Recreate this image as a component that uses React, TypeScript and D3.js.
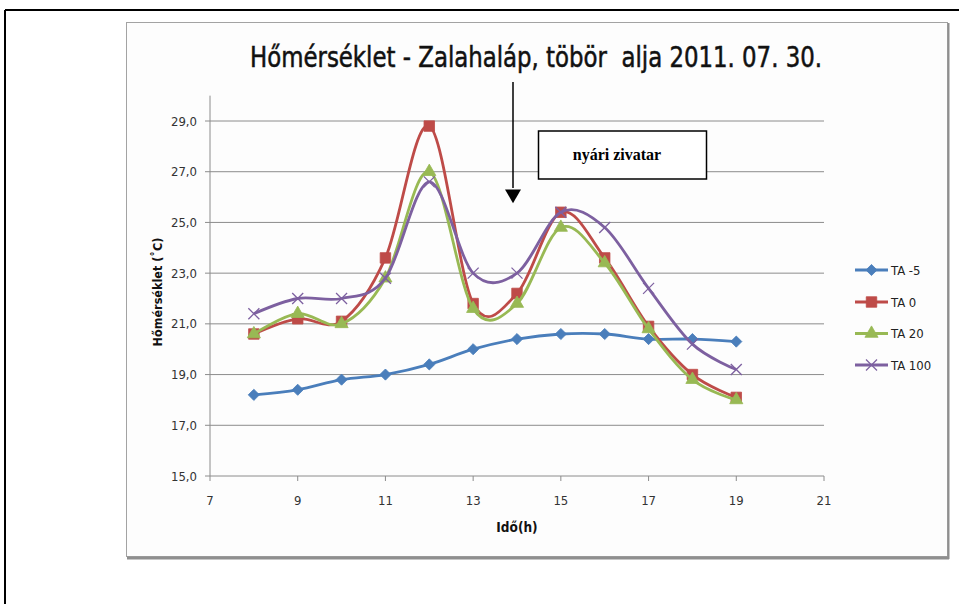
import React from 'react';
import * as d3 from 'd3';

// hours of the day
const hours = [8, 9, 10, 11, 12, 13, 14, 15, 16, 17, 18, 19];

// temperatures per sensor (°C)
const ta_m5 = [18.2, 18.4, 18.8, 19.0, 19.4, 20.0, 20.4, 20.6, 20.6, 20.4, 20.4, 20.3];
const ta_0 = [20.6, 21.2, 21.1, 23.6, 28.8, 21.8, 22.2, 25.4, 23.6, 20.9, 19.0, 18.1];
const ta_20 = [20.6, 21.4, 21.0, 22.8, 27.0, 21.6, 21.8, 24.8, 23.4, 20.8, 18.8, 18.0];
const ta_100 = [21.4, 22.0, 22.0, 22.8, 26.6, 23.0, 23.0, 25.4, 24.8, 22.4, 20.2, 19.2];

const seriesNames = ['TA -5', 'TA 0', 'TA 20', 'TA 100'];
const seriesValues = [ta_m5, ta_0, ta_20, ta_100];
const seriesColors = ['#4a7ebb', '#be4b48', '#98b954', '#7d60a0'];
const seriesMarkers = ['diamond', 'square', 'triangle', 'x'];

const xTicks = [7, 9, 11, 13, 15, 17, 19, 21];
const yTicks = [15, 17, 19, 21, 23, 25, 27, 29];

const title = 'Hőmérséklet - Zalahaláp, töbör  alja 2011. 07. 30.';
const note = 'nyári zivatar';

const W = 959;
const H = 604;

function Marker({ type, color }: { type: string; color: string }) {
  if (type === 'x') {
    return (
      <g stroke={color} strokeWidth={1.3}>
        <line x1={-5.5} y1={-5.5} x2={5.5} y2={5.5} />
        <line x1={-5.5} y1={5.5} x2={5.5} y2={-5.5} />
      </g>
    );
  }
  if (type === 'diamond') {
    // square turned by 45 degrees, as in Excel
    return (
      <path d={d3.symbol(d3.symbolSquare, 62)() || ''} transform="rotate(45)"
        fill={color} stroke={color} strokeWidth={0.8} />
    );
  }
  const sym = type === 'square' ? d3.symbol(d3.symbolSquare, 110) : d3.symbol(d3.symbolTriangle, 75);
  return <path d={sym() || ''} fill={color} stroke={color} strokeWidth={0.8} />;
}

export default function App() {
  const x = d3.scaleLinear().domain([7, 21]).range([210, 824]);
  const y = d3.scaleLinear().domain([15, 29]).range([476, 121]);

  const line = d3.line<number>()
    .x((_, i) => x(hours[i]))
    .y((d) => y(d))
    .curve(d3.curveCatmullRom.alpha(0));

  const font = "'Liberation Sans', Arial, sans-serif";
  const condensed = "'DejaVu Sans Condensed', 'Liberation Sans Narrow', sans-serif";
  const legendY = [270, 302, 333.5, 365];

  return (
    <svg width={W} height={H} style={{ position: 'absolute', left: 0, top: 0, background: '#fff' }}
      fontFamily={font}>
      {/* outer frame */}
      <line x1={5} y1={10} x2={W} y2={10} stroke="#000" strokeWidth={2} />
      <line x1={5} y1={10} x2={5} y2={H} stroke="#000" strokeWidth={2} />

      {/* chart box with shadow */}
      <rect x={126.5} y={22.5} width={821} height={534} fill="#fdfdfd" stroke="#a3a3a3" strokeWidth={1} />
      <line x1={127} y1={558} x2={949} y2={558} stroke="#8f8f8f" strokeWidth={3} />
      <line x1={948.5} y1={23} x2={948.5} y2={559} stroke="#8f8f8f" strokeWidth={2} />

      <text x={536} y={67} textAnchor="middle" fontSize={28} fill="#111" fontFamily={condensed}
        stroke="#111" strokeWidth={0.5}
        style={{ whiteSpace: 'pre' }} textLength={572} lengthAdjust="spacingAndGlyphs">{title}</text>

      {/* gridlines */}
      {yTicks.slice(1).map((t) => (
        <line key={t} x1={x(7)} x2={x(21)} y1={y(t)} y2={y(t)} stroke="#8c8c8c" strokeWidth={1} />
      ))}
      {/* axes */}
      <line x1={x(7)} x2={x(7)} y1={y(15)} y2={y(30)} stroke="#8c8c8c" strokeWidth={1} />
      <line x1={x(7)} x2={x(21)} y1={y(15)} y2={y(15)} stroke="#8c8c8c" strokeWidth={1} />
      {yTicks.map((t) => (
        <g key={t}>
          <line x1={x(7) - 5} x2={x(7)} y1={y(t)} y2={y(t)} stroke="#8c8c8c" />
          <text x={197} y={y(t) + 4.5} textAnchor="end" fontSize={13} fill="#333" fontFamily={condensed}>
            {t.toFixed(1).replace('.', ',')}
          </text>
        </g>
      ))}
      {xTicks.map((t) => (
        <g key={t}>
          <line x1={x(t)} x2={x(t)} y1={y(15)} y2={y(15) + 5} stroke="#8c8c8c" />
          <text x={x(t)} y={505} textAnchor="middle" fontSize={13} fill="#333" fontFamily={condensed}>{t}</text>
        </g>
      ))}
      <text x={517} y={532} textAnchor="middle" fontSize={13.5} fontWeight="bold" fill="#111"
        fontFamily={condensed}>Idő(h)</text>
      <text transform="translate(162,292) rotate(-90)" textAnchor="middle" fontSize={12.5}
        fontWeight="bold" fill="#111" fontFamily={condensed}>Hőmérséklet (˚C)</text>

      {/* series */}
      {seriesValues.map((vals, si) => (
        <g key={seriesNames[si]}>
          <path d={line(vals) || ''} fill="none" stroke={seriesColors[si]} strokeWidth={2.8}
            strokeLinejoin="round" />
          {vals.map((v, i) => (
            <g key={i} transform={`translate(${x(hours[i])},${y(v)})`}>
              <Marker type={seriesMarkers[si]} color={seriesColors[si]} />
            </g>
          ))}
        </g>
      ))}

      {/* annotation */}
      <line x1={513} x2={513} y1={82} y2={188} stroke="#000" strokeWidth={1.5} />
      <path d={d3.symbol(d3.symbolTriangle, 110)() || ''} transform="translate(513,194) rotate(180)" fill="#000" />
      <rect x={538.5} y={131} width={168} height={48} fill="#fff" stroke="#000" strokeWidth={1.5} />
      <text x={617} y={160} textAnchor="middle" fontSize={16} fontWeight="bold"
        fontFamily="'Liberation Serif', 'Times New Roman', serif" fill="#000">{note}</text>

      {/* legend */}
      {seriesNames.map((name, si) => (
        <g key={name} transform={`translate(0,${legendY[si]})`}>
          <line x1={855} x2={888} y1={0} y2={0} stroke={seriesColors[si]} strokeWidth={2.8} />
          <g transform="translate(871.5,0)">
            <Marker type={seriesMarkers[si]} color={seriesColors[si]} />
          </g>
          <text x={891} y={4.5} fontSize={13} fill="#222" fontFamily={condensed}>{name}</text>
        </g>
      ))}
    </svg>
  );
}
